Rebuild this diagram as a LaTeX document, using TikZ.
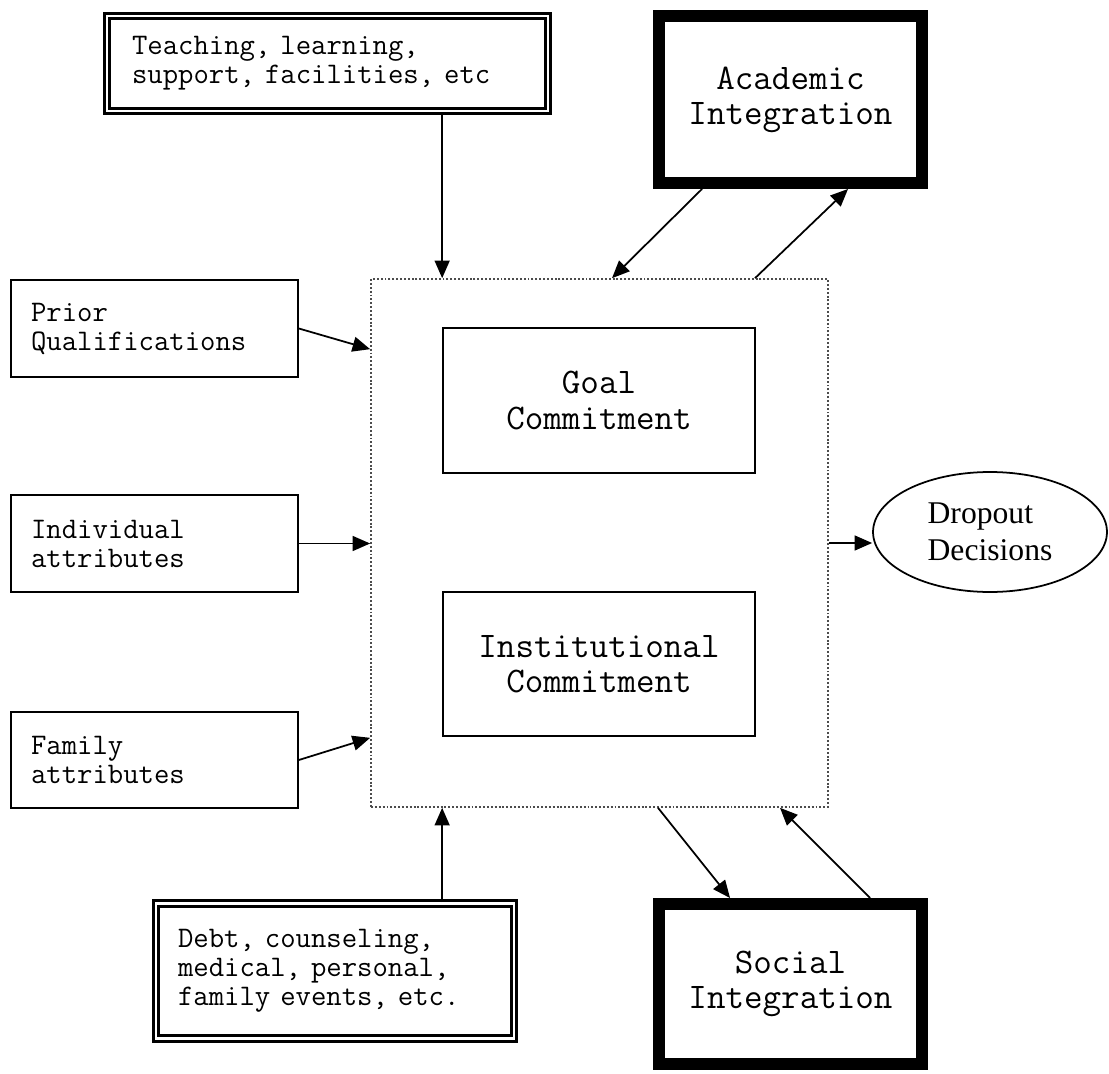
\documentclass[tikz,border=0pt]{standalone}
\usepackage{fontspec}
\newfontfamily\timesfont{Liberation Serif}
\usetikzlibrary{arrows.meta,calc,shapes.geometric}

\begin{document}
\begin{tikzpicture}[x=0.02cm, y=-0.02cm]
		\tikzstyle{small}=[font=\ttfamily\fontsize{17}{16.5}\selectfont];
		\tikzstyle{big}=[font=\ttfamily\fontsize{20.5}{20}\selectfont];
		\tikzstyle{factor}=[small, draw, line width=1pt, minimum height=1.94cm, text width=4.94cm, inner xsep=0.4cm, align=left];
		\tikzstyle{outside}=[small, draw, double, line width=1.6pt, double distance=1.6pt, inner ysep=0pt, align=left];
		\tikzstyle{commit}=[big, draw, line width=1pt, minimum width=6.24cm, align=center];
		\tikzstyle{integr}=[big, draw, line width=6.8pt, minimum width=5.26cm, align=center];
		\tikzstyle{arr}=[line width=1pt, -{Triangle[length=10pt, width=8.5pt]}];

		\useasboundingbox (0,0) rectangle (1109,1074);

		\node[outside, minimum height=1.9cm, text width=7.82cm, inner xsep=0.5cm] (teach) at (327.5,63.5) {Teaching, learning,\\support, facilities, etc};
		\node[integr, minimum height=3.34cm] (acad) at (790.5,99.5) {Academic\\Integration};

		\node[draw, line width=1pt, draw=black!70, dash pattern=on 1.1pt off 1.1pt, minimum width=9.14cm, minimum height=10.56cm] (frame) at (599.5,543) {};
		\node[commit, minimum height=2.9cm] (goal) at (599,400.5) {Goal\\Commitment};
		\node[commit, minimum height=2.88cm] (inst) at (599,664) {Institutional\\Commitment};

		\node[factor] (prior) at (154.5,328.5) {Prior\\Qualifications};
		\node[factor] (indiv) at (154.5,543.5) {Individual\\attributes};
		\node[factor, minimum height=1.92cm] (family) at (154.5,760) {Family\\attributes};

		\node[draw, ellipse, line width=1pt, minimum width=4.68cm, minimum height=2.4cm, inner sep=0pt, align=left, font=\timesfont\fontsize{18}{21}\selectfont] (dropout) at (990,532) {Dropout\\Decisions};

		\node[outside, minimum height=2.7cm, text width=6.28cm, inner xsep=0.44cm] (debt) at (335,971) {Debt, counseling,\\medical, personal,\\family events, etc.};
		\node[integr, minimum height=3.2cm] (social) at (790.5,984) {Social\\Integration};

		\draw[arr] (teach.south -| goal.west) -- (frame.north -| goal.west);
		\draw[arr] (debt.north -| goal.west) -- (frame.south -| goal.west);
		\draw[arr] (prior.east) -- ($(frame.north west)+(0,71)$);
		\draw[arr] (indiv.east) -- (indiv.east -| frame.west);
		\draw[arr] (family.east) -- ($(frame.south west)+(0,-70)$);
		\draw[arr] (frame.east) -- (frame.east -| dropout.west);

		\draw[arr] ($(acad.south west)+(49,0)$) -- ($(frame.north)+(12.5,0)$);
		\draw[arr] ($(frame.north)+(155.5,0)$) -- ($(acad.south west)+(195,0)$);
		\draw[arr] ($(frame.south)+(58.5,0)$) -- ($(social.north west)+(77,0)$);
		\draw[arr] ($(social.north west)+(217,0)$) -- ($(frame.south)+(180.5,0)$);
\end{tikzpicture}
\end{document}
